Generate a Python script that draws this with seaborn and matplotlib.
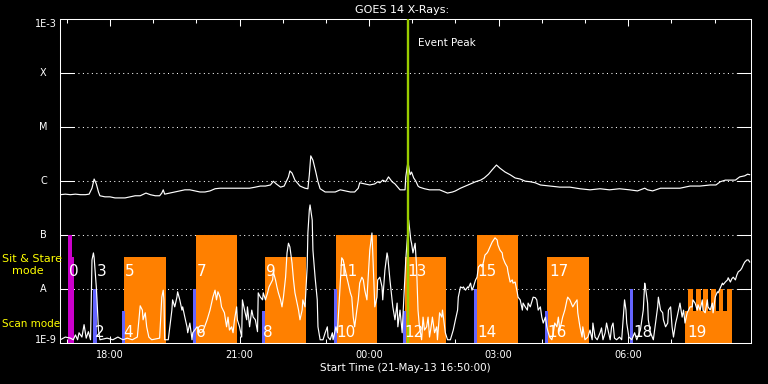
import numpy as np
import pandas as pd
import matplotlib
matplotlib.use("Agg")
import matplotlib.pyplot as plt
from matplotlib.ticker import NullLocator
import seaborn as sns

# ---------------- data (time = minutes after 21-May-13 16:50:00, flux = log10 W/m^2) ----------------
upper_min = [1, 8, 15, 22, 29, 36, 41, 45, 48, 51,
             54, 56, 63, 70, 77, 84, 91, 98, 105, 112,
             117, 120, 126, 133, 139, 142, 144, 146, 153, 160,
             167, 174, 181, 188, 195, 202, 209, 216, 223, 229,
             236, 250, 264, 272, 279, 286, 293, 297, 301, 307,
             312, 318, 320, 323, 327, 334, 341, 345, 347, 349,
             352, 356, 359, 362, 369, 376, 383, 390, 397, 404,
             410, 415, 417, 424, 431, 438, 442, 445, 449, 453,
             457, 462, 466, 473, 480, 481, 484, 487, 489, 492,
             495, 498, 500, 507, 514, 528, 539, 546, 550, 557,
             564, 571, 578, 585, 590, 596, 601, 607, 612, 619,
             626, 633, 640, 647, 654, 661, 668, 681, 695, 709,
             723, 737, 751, 764, 778, 792, 803, 813, 817, 824,
             835, 848, 862, 876, 890, 904, 912, 918, 925, 939,
             945, 952, 956, 959]
upper_log = [-6.25, -6.24, -6.25, -6.24, -6.25, -6.25, -6.24, -6.13, -5.96, -6.05,
             -6.20, -6.27, -6.29, -6.29, -6.31, -6.31, -6.31, -6.29, -6.27, -6.27,
             -6.24, -6.22, -6.25, -6.27, -6.27, -6.22, -6.16, -6.24, -6.22, -6.20,
             -6.18, -6.16, -6.16, -6.18, -6.20, -6.20, -6.18, -6.14, -6.13, -6.13,
             -6.13, -6.13, -6.13, -6.11, -6.09, -6.09, -6.07, -6.00, -6.05, -6.11,
             -6.09, -5.92, -5.81, -5.85, -5.98, -6.09, -6.13, -6.14, -5.88, -5.53,
             -5.61, -5.83, -6.01, -6.14, -6.20, -6.20, -6.20, -6.16, -6.18, -6.20,
             -6.20, -6.13, -6.03, -6.05, -6.07, -6.05, -6.01, -6.03, -5.98, -6.01,
             -5.92, -6.01, -6.05, -6.16, -6.16, -5.92, -5.64, -5.88, -5.83, -5.94,
             -6.00, -6.09, -6.11, -6.14, -6.16, -6.16, -6.22, -6.20, -6.18, -6.13,
             -6.09, -6.05, -6.01, -5.98, -5.94, -5.87, -5.79, -5.70, -5.76, -5.83,
             -5.88, -5.94, -5.96, -6.00, -6.01, -6.03, -6.07, -6.09, -6.11, -6.11,
             -6.14, -6.16, -6.14, -6.16, -6.14, -6.16, -6.18, -6.13, -6.16, -6.18,
             -6.13, -6.13, -6.13, -6.09, -6.09, -6.07, -6.07, -6.01, -5.98, -5.98,
             -5.92, -5.90, -5.87, -5.88]

lower_min = [1, 8, 15, 19, 22, 25, 27, 31, 34, 37,
             40, 43, 45, 47, 48, 51, 52, 54, 56, 66,
             74, 81, 88, 94, 101, 108, 112, 115, 116, 119,
             121, 124, 128, 139, 142, 144, 145, 146, 151, 156,
             157, 160, 163, 164, 167, 170, 171, 174, 177, 178,
             181, 184, 185, 191, 195, 199, 205, 209, 213, 216,
             218, 220, 223, 225, 229, 232, 234, 236, 239, 241,
             243, 246, 247, 250, 253, 254, 257, 260, 261, 264,
             267, 269, 272, 275, 276, 279, 282, 283, 286, 289,
             291, 296, 297, 300, 302, 304, 307, 309, 311, 314,
             316, 318, 320, 323, 325, 327, 330, 332, 334, 337,
             338, 341, 344, 345, 347, 348, 351, 352, 355, 358,
             359, 362, 366, 369, 372, 373, 376, 379, 380, 384,
             386, 390, 392, 394, 397, 399, 401, 404, 406, 408,
             410, 413, 415, 417, 420, 422, 424, 427, 428, 431,
             434, 435, 438, 441, 442, 445, 448, 449, 452, 455,
             456, 459, 462, 463, 466, 469, 470, 473, 476, 477,
             481, 485, 488, 489, 491, 494, 496, 498, 500, 503,
             505, 507, 510, 512, 514, 517, 518, 521, 524, 525,
             528, 531, 532, 536, 539, 543, 546, 547, 550, 553,
             554, 557, 560, 561, 564, 567, 568, 571, 573, 575,
             578, 580, 582, 585, 587, 589, 591, 594, 595, 598,
             601, 603, 605, 608, 609, 612, 615, 616, 619, 622,
             623, 626, 629, 630, 633, 636, 637, 640, 643, 644,
             647, 650, 651, 654, 657, 658, 661, 663, 665, 668,
             670, 672, 675, 677, 679, 681, 684, 686, 688, 691,
             693, 695, 699, 702, 705, 706, 709, 713, 716, 719,
             720, 723, 726, 727, 730, 734, 737, 740, 741, 744,
             747, 751, 753, 755, 758, 760, 762, 765, 767, 769,
             771, 774, 778, 781, 785, 787, 788, 791, 795, 799,
             802, 807, 811, 813, 814, 817, 818, 821, 825, 828,
             831, 832, 835, 838, 839, 842, 845, 846, 849, 851,
             853, 856, 858, 860, 862, 865, 867, 869, 872, 874,
             876, 879, 880, 883, 886, 887, 890, 893, 894, 897,
             900, 901, 904, 907, 908, 911, 914, 915, 918, 921,
             922, 925, 928, 929, 932, 934, 936, 939, 941, 943,
             946, 948, 950, 952, 955, 957, 959]
lower_log = [-8.94, -8.89, -8.91, -8.94, -8.85, -8.94, -8.81, -8.89, -8.66, -8.91,
             -8.79, -8.94, -7.46, -7.33, -7.42, -7.96, -8.20, -8.76, -8.94, -8.91,
             -8.94, -8.89, -8.94, -8.91, -8.94, -8.89, -8.31, -8.39, -8.57, -8.44,
             -8.70, -8.89, -8.94, -8.91, -8.15, -8.02, -8.20, -8.94, -8.94, -8.39,
             -8.20, -8.33, -8.15, -8.05, -8.20, -8.39, -8.33, -8.52, -8.70, -8.81,
             -8.63, -8.94, -8.81, -8.70, -8.81, -8.79, -8.57, -8.39, -8.15, -8.02,
             -8.20, -8.05, -8.15, -8.33, -8.44, -8.70, -8.52, -8.76, -8.70, -8.81,
             -8.57, -8.33, -8.57, -8.70, -8.89, -8.20, -8.39, -8.57, -8.33, -8.70,
             -8.39, -8.52, -8.57, -8.79, -8.07, -8.15, -8.20, -8.07, -8.20, -8.07,
             -7.96, -7.83, -7.68, -7.83, -7.96, -8.07, -8.20, -8.33, -8.15, -7.78,
             -7.33, -7.15, -7.22, -7.52, -7.83, -8.07, -8.26, -8.39, -8.57, -8.39,
             -8.20, -8.33, -7.59, -6.96, -6.53, -6.44, -6.72, -7.28, -7.78, -8.20,
             -8.70, -8.94, -8.94, -8.81, -8.70, -8.89, -8.94, -8.81, -8.94, -8.70,
             -8.81, -7.89, -7.42, -7.46, -7.65, -7.78, -7.89, -8.07, -8.15, -8.52,
             -8.70, -8.39, -8.20, -7.89, -7.78, -7.83, -8.02, -8.20, -7.96, -7.28,
             -6.96, -7.28, -8.33, -8.15, -7.83, -7.78, -7.96, -8.20, -7.65, -7.33,
             -7.40, -7.83, -8.20, -8.33, -8.57, -8.26, -8.70, -8.39, -8.81, -8.52,
             -7.46, -6.72, -7.09, -7.15, -7.33, -7.15, -7.59, -8.39, -8.70, -8.94,
             -8.52, -8.76, -8.70, -8.52, -8.89, -8.63, -8.52, -8.81, -8.70, -8.94,
             -8.44, -8.52, -8.39, -8.81, -8.94, -8.94, -8.81, -8.76, -8.57, -8.39,
             -8.15, -7.96, -7.98, -7.96, -8.02, -7.96, -7.98, -7.89, -8.02, -7.96,
             -7.83, -7.78, -7.59, -7.55, -7.59, -7.50, -7.37, -7.33, -7.31, -7.22,
             -7.13, -7.09, -7.05, -7.09, -7.18, -7.28, -7.33, -7.42, -7.52, -7.59,
             -7.68, -7.87, -7.83, -7.89, -7.87, -8.07, -8.15, -8.20, -8.39, -8.26,
             -8.33, -8.39, -8.26, -8.33, -8.20, -8.15, -8.16, -8.20, -8.39, -8.33,
             -8.52, -8.63, -8.52, -8.70, -8.81, -8.89, -8.94, -8.81, -8.63, -8.70,
             -8.52, -8.76, -8.52, -8.39, -8.20, -8.15, -8.20, -8.33, -8.26, -8.20,
             -8.44, -8.70, -8.89, -8.70, -8.94, -8.89, -8.76, -8.94, -8.63, -8.89,
             -8.94, -8.81, -8.72, -8.94, -8.81, -8.63, -8.76, -8.94, -8.70, -8.63,
             -8.91, -8.94, -8.89, -8.94, -8.20, -8.39, -8.63, -8.89, -8.94, -8.81,
             -8.94, -8.76, -8.39, -7.89, -7.96, -8.26, -8.57, -8.81, -8.94, -8.63,
             -8.33, -8.15, -8.39, -8.44, -8.57, -8.70, -8.63, -8.39, -8.33, -8.70,
             -8.89, -8.63, -8.52, -8.39, -8.26, -8.52, -8.39, -8.63, -8.44, -8.39,
             -8.33, -8.33, -8.20, -8.26, -8.39, -8.29, -8.39, -8.20, -8.39, -8.44,
             -8.20, -8.33, -8.39, -8.26, -8.44, -8.15, -8.05, -8.07, -7.98, -7.89,
             -7.92, -7.87, -7.83, -7.79, -7.87, -7.81, -7.78, -7.83, -7.74, -7.68,
             -7.65, -7.61, -7.55, -7.50, -7.46, -7.46, -7.50]

# sit & stare pointings (start, end in minutes, top flux)
ss_start = [12, 17, 50, 90, 190, 285, 384, 480, 580, 677]
ss_end = [17, 20, 51, 148, 247, 343, 441, 537, 637, 735]
ss_top = [1e-7, 4e-8, 1e-7, 4e-8, 1e-7, 4e-8, 1e-7, 4e-8, 1e-7, 4e-8]
ss_colors = ["#cc00cc", "#cc00cc", "#ffff00", "#ff8000", "#ff8000", "#ff8000",
             "#ff8000", "#ff8000", "#ff8000", "#ff8000"]
# event 19 block
ev19_start = [869, 873, 884, 894, 905, 916, 927]
ev19_end = [934, 880, 891, 901, 912, 922, 934]
ev19_top = [4e-9, 1e-8, 1e-8, 1e-8, 1e-8, 1e-8, 1e-8]
# scan mode
scan_start = [46, 87, 185, 281, 381, 477, 576, 675, 793]
scan_end = [52, 91, 190, 285, 385, 481, 580, 679, 797]
scan_top = [1e-8, 4e-9, 1e-8, 4e-9, 1e-8, 4e-9, 1e-8, 4e-9, 1e-8]

event_labels = ["0", "2", "3", "4", "5", "6", "7", "8", "9", "10",
                "11", "12", "13", "14", "15", "16", "17", "18", "19"]
event_label_min = [13, 49, 52, 89, 91, 190, 191, 283, 287, 384,
                   387, 479, 483, 580, 581, 677, 680, 797, 872]
event_label_row = ["ss", "scan", "ss", "scan", "ss", "scan", "ss", "scan", "ss", "scan",
                   "ss", "scan", "ss", "scan", "ss", "scan", "ss", "scan", "scan"]

peak_min = 484
class_levels = [1e-4, 1e-5, 1e-6, 1e-7, 1e-8]
class_names = ["X", "M", "C", "B", "A"]
xtick_min = [70, 250, 430, 610, 790]
xtick_labels = ["18:00", "21:00", "00:00", "03:00", "06:00"]
xminor_min = [10, 130, 190, 310, 370, 490, 550, 670, 730, 850, 910]

# ---------------- plotting ----------------
sns.set_theme(style="ticks")
plt.rcParams["font.family"] = ["DejaVu Sans"]

fig = plt.figure(figsize=(7.68, 3.84), dpi=100, facecolor="black")
ax = fig.add_axes([59.6 / 768, 41 / 384, 690.9 / 768, 323.6 / 384])
ax.set_facecolor("black")
ax.set_yscale("log")

floor = 1e-9
for lv in class_levels:
    ax.axhline(lv, color="white", lw=0.75, ls=(0, (1, 3.3)), zorder=1)


def draw_events(starts, ends, tops, colors):
    s = np.array(starts, dtype=float)
    e = np.array(ends, dtype=float)
    t = np.array(tops, dtype=float)
    ax.bar(s, t - floor, width=e - s, bottom=floor, align="edge",
           color=colors, linewidth=0, zorder=2)


draw_events(ss_start, ss_end, ss_top, ss_colors)
draw_events(ev19_start, ev19_end, ev19_top, "#ff8000")
draw_events(scan_start, scan_end, scan_top, "#6464ff")

df_up = pd.DataFrame({"minute": upper_min, "flux": 10 ** np.array(upper_log)})
df_lo = pd.DataFrame({"minute": lower_min, "flux": 10 ** np.array(lower_log)})
sns.lineplot(data=df_lo, x="minute", y="flux", ax=ax, color="white", lw=0.85,
             estimator=None, sort=False, zorder=3)
sns.lineplot(data=df_up, x="minute", y="flux", ax=ax, color="white", lw=0.85,
             estimator=None, sort=False, zorder=3)

ax.axvline(peak_min, color="#9acd00", lw=1.7, zorder=5)
ax.text(498, 10 ** -3.44, "Event Peak", color="white", fontsize=7.5,
        ha="left", va="center", zorder=6)

row_y = {"ss": 10 ** -7.67, "scan": 10 ** -8.81}
for txt, m, row in zip(event_labels, event_label_min, event_label_row):
    ax.text(m, row_y[row], txt, color="white", fontsize=11, ha="left",
            va="center", zorder=6)

ax.set_xlim(0, 960)
ax.set_ylim(1e-9, 1e-3)

# y labels
ytr = ax.get_yaxis_transform()
ax.text(-0.0038, 10 ** -3.085, "1E-3", transform=ytr, color="white", fontsize=7,
        ha="right", va="center")
ax.text(-0.0038, 10 ** -8.94, "1E-9", transform=ytr, color="white", fontsize=7,
        ha="right", va="center")
for lv, nm in zip(class_levels, class_names):
    ax.text(-0.0233, lv, nm, transform=ytr, color="white", fontsize=7,
            ha="center", va="center")

ax.set_yticks(class_levels)
ax.yaxis.set_minor_locator(NullLocator())
ax.tick_params(axis="y", which="major", direction="in", length=10, width=0.75,
               color="white", left=True, right=True, labelleft=False)

ax.set_xticks(xtick_min)
ax.set_xticklabels(xtick_labels)
ax.set_xticks(xminor_min, minor=True)
ax.tick_params(axis="x", which="major", direction="in", length=4.8, width=0.75,
               color="white", top=True, bottom=True, labelcolor="white",
               labelsize=7, pad=5)
ax.tick_params(axis="x", which="minor", direction="in", length=2.9, width=0.75,
               color="white", top=True, bottom=True)

for sp in ax.spines.values():
    sp.set_color("white")
    sp.set_linewidth(0.75)
    sp.set_visible(True)

ax.set_ylabel("")
ax.set_xlabel("Start Time (21-May-13 16:50:00)", color="white", fontsize=7.5,
              labelpad=2)

fig.text(402 / 768, 1 - 10 / 384, "GOES 14 X-Rays:", color="white", fontsize=8,
         ha="center", va="center")
fig.text(2 / 768, 1 - 259 / 384, "Sit & Stare", color="#ffff00", fontsize=8,
         ha="left", va="center")
fig.text(12 / 768, 1 - 271 / 384, "mode", color="#ffff00", fontsize=8,
         ha="left", va="center")
fig.text(2 / 768, 1 - 324 / 384, "Scan mode", color="#ffff00", fontsize=7.5,
         ha="left", va="center")

fig.savefig("out.png", dpi=100, facecolor="black")
